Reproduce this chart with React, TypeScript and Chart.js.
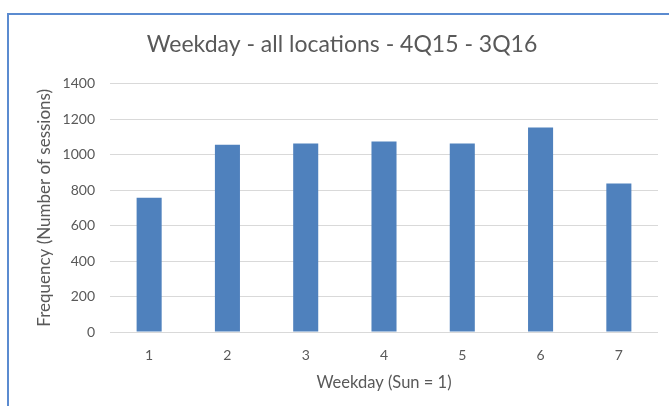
import React, { useEffect, useRef } from "react";
import { Chart, registerables } from "chart.js";

Chart.register(...registerables);

const categories = ["1", "2", "3", "4", "5", "6", "7"];
const sessions = [757, 1055, 1063, 1073, 1063, 1153, 837];
const yTicks = [0, 200, 400, 600, 800, 1000, 1200, 1400];

const TITLE = "Weekday - all locations - 4Q15 - 3Q16";
const X_TITLE = "Weekday (Sun = 1)";
const Y_TITLE = "Frequency (Number of sessions)";

const FONT = "Lato, 'Open Sans', sans-serif";
const TEXT = "#595959";
const PAD_LEFT = 26;

export default function App() {
  const ref = useRef<HTMLCanvasElement | null>(null);

  useEffect(() => {
    if (!ref.current) return;
    const chart = new Chart(ref.current, {
      type: "bar",
      data: {
        labels: categories,
        datasets: [
          {
            data: sessions,
            backgroundColor: "#4f81bd",
            borderWidth: 0,
            categoryPercentage: 1,
            barPercentage: 0.32,
          },
        ],
      },
      options: {
        animation: false,
        responsive: false,
        layout: { padding: { top: 0, left: PAD_LEFT, right: 11, bottom: 0 } },
        plugins: {
          legend: { display: false },
          tooltip: { enabled: false },
          title: {
            display: true,
            text: TITLE,
            color: TEXT,
            font: { family: FONT, size: 23, weight: "normal" },
            padding: { top: 31, bottom: 25 },
          },
        },
        scales: {
          x: {
            grid: { display: false, drawTicks: false },
            border: { display: false },
            ticks: {
              color: TEXT,
              font: { family: FONT, size: 14 },
              padding: 15,
            },
            title: {
              display: true,
              text: X_TITLE,
              color: TEXT,
              font: { family: FONT, size: 16.5 },
              padding: { top: 8, bottom: 13 },
            },
            afterFit: (s: any) => {
              s.height = 74;
            },
          },
          y: {
            min: 0,
            max: 1400,
            afterBuildTicks: (s: any) => {
              s.ticks = yTicks.map((v) => ({ value: v }));
            },
            grid: { color: "#d9d9d9", drawTicks: false, lineWidth: 1 },
            border: { display: false },
            ticks: {
              color: TEXT,
              font: { family: FONT, size: 14 },
              padding: 15,
              callback: (v: any) => String(v),
            },
            title: {
              display: true,
              text: Y_TITLE,
              color: TEXT,
              font: { family: FONT, size: 17 },
              padding: { top: 45 - PAD_LEFT - 10.2, bottom: 4 },
            },
            afterFit: (s: any) => {
              s.width = 110 - PAD_LEFT;
            },
          },
        },
      },
    });
    return () => chart.destroy();
  }, []);

  return (
    <div
      style={{
        position: "fixed",
        left: 0,
        top: 0,
        width: 669,
        height: 406,
        background: "#fff",
        overflow: "hidden",
      }}
    >
      <div
        style={{
          position: "absolute",
          left: 7,
          top: 13,
          right: -10,
          bottom: -10,
          borderTop: "2px solid #5b8bd0",
          borderLeft: "2px solid #5b8bd0",
        }}
      />
      <canvas
        ref={ref}
        width={669}
        height={406}
        style={{ position: "absolute", left: 0, top: 0, width: 669, height: 406 }}
      />
    </div>
  );
}
